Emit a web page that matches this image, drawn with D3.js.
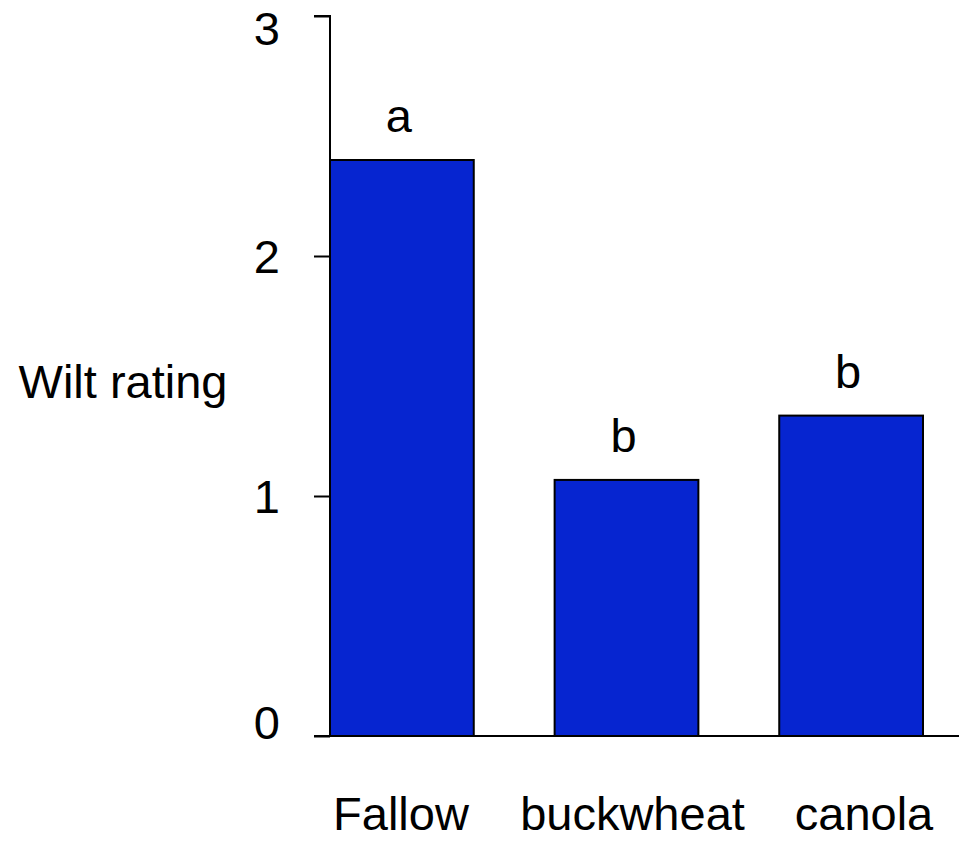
<!DOCTYPE html>
<meta charset="utf-8">
<html>
<head>
    <title>Wilt rating</title>
    <script src="https://cdn.jsdelivr.net/npm/d3@7"></script>
</head>
<style>
    body{
        margin: 0;
        background: white;
    }
    svg{
        display: block;
    }
    text{
        font-family: "Liberation Sans", Arial, sans-serif;
        fill: black;
    }
</style>
<body>
<svg width="959" height="841"></svg>
<script>
    // data
    let categories = ["Fallow", "buckwheat", "canola"]
    let wilt = [2.40, 1.067, 1.335]
    let letters = ["a", "b", "b"]
    let yTicks = [0, 1, 2, 3]

    let svg = d3.select("svg")
    let fs = 47

    // scales
    let x = d3.scaleBand()
        .domain(categories)
        .range([330, 923])
        .paddingInner(0.36)
        .paddingOuter(0)
    // category labels sit a bit off the bar centres
    let xLabel = d3.scalePoint()
        .domain(categories)
        .range([401, 864])
    let y = d3.scaleLinear()
        .domain([0, 3])
        .range([736, 16])

    // y axis
    let yAxis = svg.append("g")
        .attr("transform", "translate(330,0)")
        .call(d3.axisLeft(y).tickValues(yTicks).tickSize(16).tickPadding(34).tickFormat(d3.format("d")))
    yAxis.select(".domain").attr("stroke-width", 2).attr("d", "M-16,16H0V736")
    yAxis.selectAll(".tick line").attr("stroke-width", 2)
    // end labels are pulled inside the axis range
    yAxis.selectAll(".tick text")
        .attr("font-size", fs)
        .attr("font-family", "Liberation Sans, Arial, sans-serif")
        .attr("dy", "0.36em")
        .attr("y", d => Math.max(28, Math.min(722, y(d))) - y(d))

    // bars
    svg.selectAll("rect.bar")
        .data(categories)
        .enter()
        .append("rect")
        .attr("class", "bar")
        .attr("x", d => x(d))
        .attr("width", x.bandwidth())
        .attr("y", (d, i) => y(wilt[i]))
        .attr("height", (d, i) => y(0) - y(wilt[i]))
        .attr("fill", "#0625d0")
        .attr("stroke", "black")
        .attr("stroke-width", 2)

    // x axis line
    svg.append("line")
        .attr("x1", 314).attr("x2", 959)
        .attr("y1", y(0)).attr("y2", y(0))
        .attr("stroke", "black")
        .attr("stroke-width", 2)

    // significance letters
    svg.selectAll("text.letter")
        .data(categories)
        .enter()
        .append("text")
        .attr("class", "letter")
        .attr("x", d => x(d) + x.bandwidth() / 2 - 3)
        .attr("y", (d, i) => y(wilt[i]) - 28)
        .attr("text-anchor", "middle")
        .attr("font-size", fs)
        .text((d, i) => letters[i])

    // category labels
    svg.selectAll("text.cat")
        .data(categories)
        .enter()
        .append("text")
        .attr("class", "cat")
        .attr("x", d => xLabel(d))
        .attr("y", 830)
        .attr("text-anchor", "middle")
        .attr("font-size", fs)
        .text(d => d)

    // y label
    svg.append("text")
        .attr("x", 123)
        .attr("y", 398)
        .attr("text-anchor", "middle")
        .attr("font-size", fs)
        .text("Wilt rating")
</script>
</body>
</html>
